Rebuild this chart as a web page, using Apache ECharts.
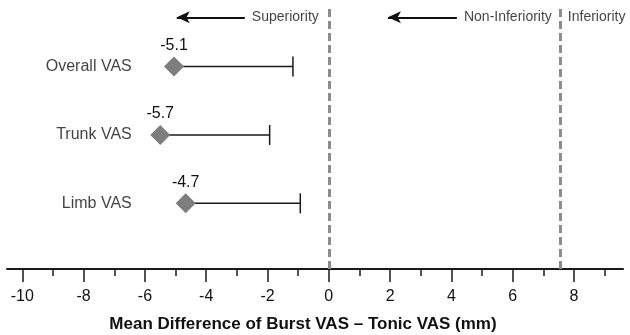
<!DOCTYPE html>
<html>
<head>
<meta charset="utf-8">
<script src="https://cdn.jsdelivr.net/npm/echarts@6/dist/echarts.min.js"></script>
<style>html,body{margin:0;padding:0;background:#fff;}#c{width:630px;height:335px;}</style>
</head>
<body>
<div id="c"></div>
<script>
// ---- data ----
var categories = ['Overall VAS', 'Trunk VAS', 'Limb VAS'];
var rowPos = [3, 2, 1];
var means = [-5.05, -5.5, -4.67];
var meanLabels = ['-5.1', '-5.7', '-4.7'];
var upperCI = [-1.17, -1.93, -0.93];
var majorTicks = [-10, -8, -6, -4, -2, 0, 2, 4, 6, 8];
var minorTicks = [-9, -7, -5, -3, -1, 1, 3, 5, 7, 9];
var refLines = [0, 7.56];
var noteTexts = ['Superiority', 'Non-Inferiority', 'Inferiority'];
var xTitle = 'Mean Difference of Burst VAS \u2013 Tonic VAS (mm)';

// ---- layout constants ----
var FONT = "'Liberation Sans', Arial, Helvetica, sans-serif";
var TXT = '#111111';
var X_MIN = -10.5, X_MAX = 9.6, Y_MIN = 0.04, Y_MAX = 3.9;
var NOTE_Y = 3.72;
var catLabelX = -6.43;
var arrows = [[-2.74, -4.96], [4.18, 1.93]];
var notesX = [-2.51, 4.41, 7.8];

var chart = echarts.init(document.getElementById('c'), null, {renderer: 'canvas'});

var errData = means.map(function (m, i) { return [m, rowPos[i], upperCI[i]]; });
var pointData = means.map(function (m, i) { return {value: [m, rowPos[i]], label: {formatter: meanLabels[i]}}; });
var catData = categories.map(function (c, i) { return {value: [catLabelX, rowPos[i]], label: {formatter: c}}; });
var noteData = noteTexts.map(function (t, i) { return {value: [notesX[i], NOTE_Y], label: {formatter: t}}; });

var option = {
  animation: false,
  grid: {left: 7, right: 7, top: 5, bottom: 66, containLabel: false, outerBoundsMode: 'none'},
  xAxis: [{
    type: 'value', min: X_MIN, max: X_MAX,
    splitLine: {show: false},
    axisLine: {show: true, onZero: false, lineStyle: {color: '#1a1a1a', width: 2}},
    axisTick: {show: true, customValues: majorTicks, length: 13, lineStyle: {color: '#1a1a1a', width: 1.5}},
    axisLabel: {show: true, customValues: majorTicks, fontSize: 16, color: TXT, fontFamily: FONT, margin: 20},
    name: xTitle, nameLocation: 'middle', nameGap: 47,
    nameTextStyle: {fontSize: 17, fontWeight: 'bold', color: TXT, fontFamily: FONT, padding: [0, 24, 0, 0]}
  }, {
    type: 'value', min: X_MIN, max: X_MAX, position: 'bottom',
    splitLine: {show: false},
    axisLine: {show: false},
    axisTick: {show: true, customValues: minorTicks, length: 7, lineStyle: {color: '#1a1a1a', width: 1.5}},
    axisLabel: {show: false}
  }],
  yAxis: {type: 'value', min: Y_MIN, max: Y_MAX, show: false},
  series: [
    {
      type: 'custom', name: 'ci', xAxisIndex: 0, z: 2,
      renderItem: function (params, api) {
        var y = api.value(1);
        var p0 = api.coord([api.value(0), y]);
        var p1 = api.coord([api.value(2), y]);
        var st = {stroke: '#1a1a1a', lineWidth: 1.5};
        return {type: 'group', children: [
          {type: 'line', shape: {x1: p0[0], y1: p0[1], x2: p1[0], y2: p1[1]}, style: st},
          {type: 'line', shape: {x1: p1[0], y1: p1[1] - 10, x2: p1[0], y2: p1[1] + 10}, style: st}
        ]};
      },
      data: errData,
      markLine: {
        silent: true, symbol: ['none', 'none'],
        lineStyle: {color: '#8c8c8c', width: 3, type: [8, 4]},
        label: {show: false},
        data: refLines.map(function (v) { return {xAxis: v}; })
      }
    },
    {
      type: 'scatter', name: 'mean', symbol: 'diamond', symbolSize: 20, z: 3,
      itemStyle: {color: '#7d7d7d', opacity: 1},
      label: {show: true, position: 'top', distance: 3, fontSize: 16, color: TXT, fontFamily: FONT},
      data: pointData
    },
    {
      type: 'scatter', name: 'cats', symbolSize: 0, silent: true,
      label: {show: true, position: 'left', distance: 0, fontSize: 16, color: TXT, fontFamily: FONT},
      data: catData
    },
    {
      type: 'scatter', name: 'notes', symbolSize: 0, silent: true,
      label: {show: true, position: 'right', distance: 0, fontSize: 14, color: TXT, fontFamily: FONT},
      data: noteData,
      markLine: {
        silent: true, symbol: ['none', 'arrow'], symbolSize: [9, 13],
        lineStyle: {color: '#111111', width: 1.8, type: 'solid'},
        label: {show: false},
        data: arrows.map(function (a) { return [{coord: [a[0], NOTE_Y]}, {coord: [a[1], NOTE_Y]}]; })
      }
    }
  ]
};
chart.setOption(option);
</script>
</body>
</html>
